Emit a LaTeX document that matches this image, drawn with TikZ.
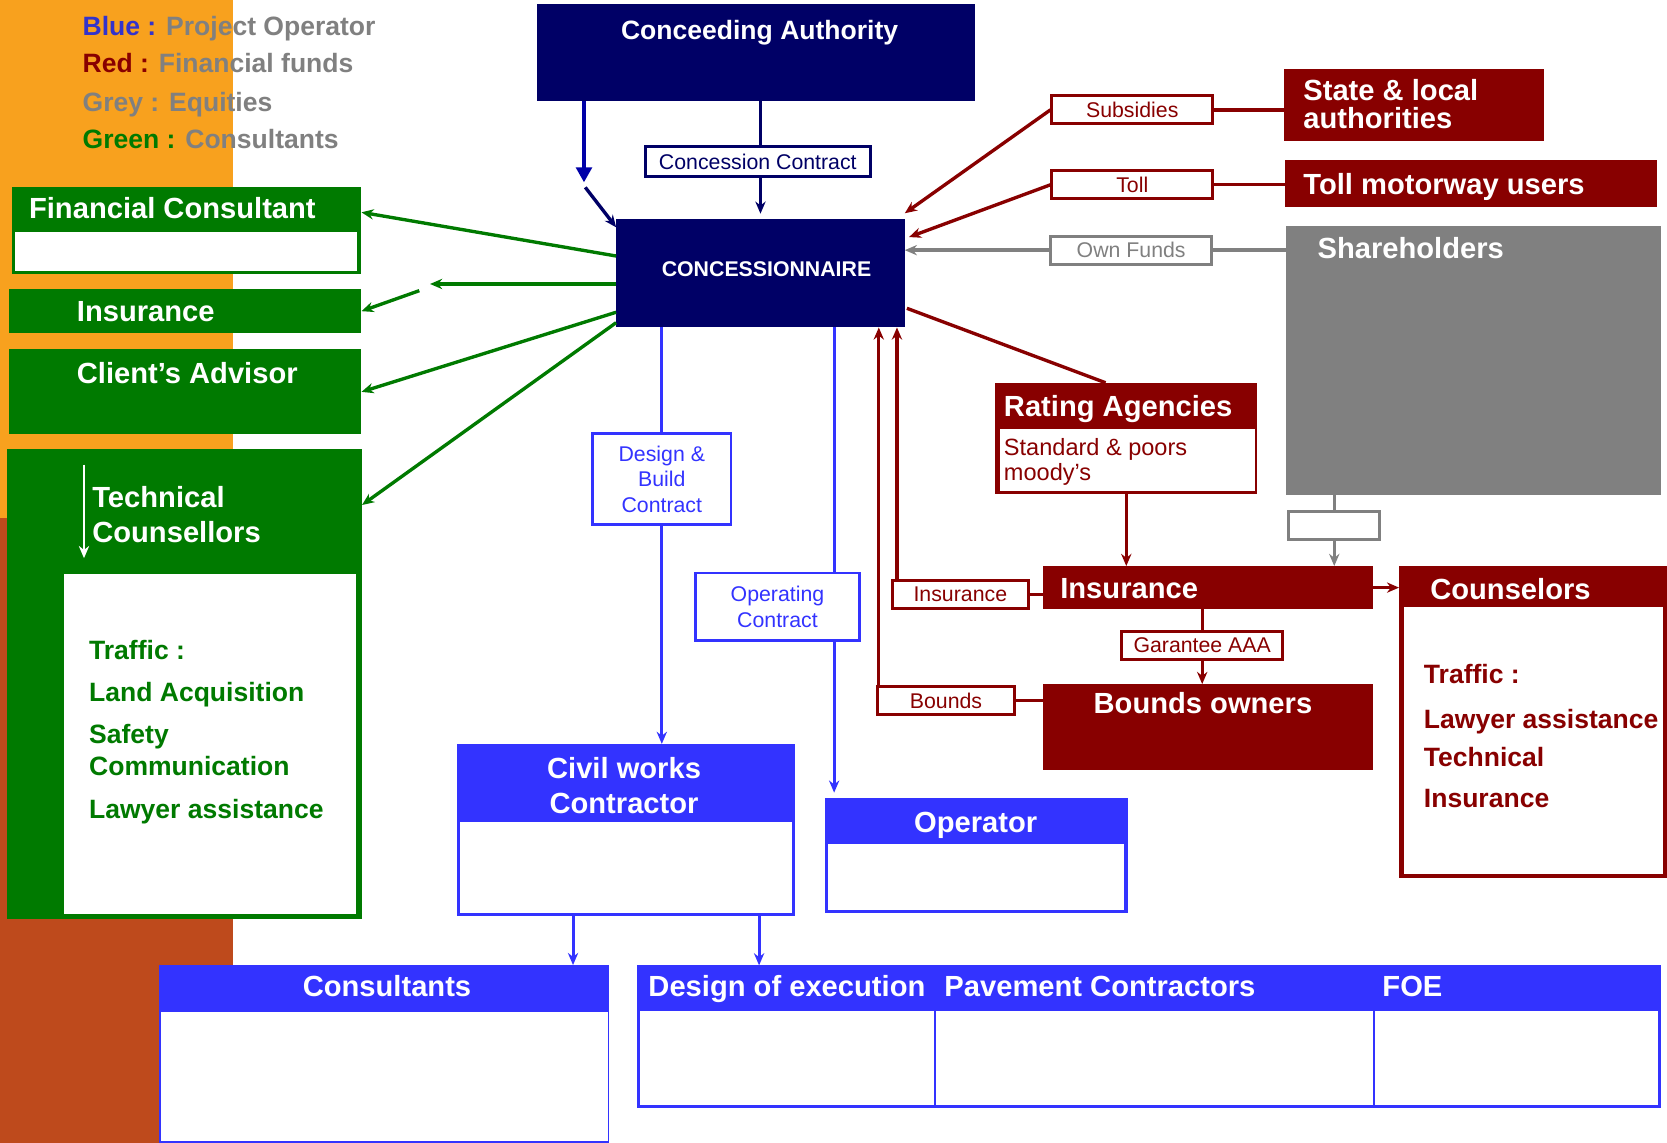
\documentclass[tikz,border=0pt]{standalone}
\usepackage{fontspec}
\setmainfont{Liberation Sans}
\usetikzlibrary{arrows.meta}
\definecolor{navy}{RGB}{0,0,102}
\definecolor{royal}{RGB}{0,0,168}
\definecolor{opblue}{RGB}{51,51,255}
\definecolor{fundred}{RGB}{136,0,0}
\definecolor{consgreen}{RGB}{0,122,0}
\definecolor{eqgrey}{RGB}{128,128,128}
\definecolor{keyblue}{RGB}{51,51,204}
\definecolor{bgorange}{RGB}{248,161,30}
\definecolor{bgrust}{RGB}{190,74,28}
\newcommand{\hdfont}{\fontsize{15.6}{18.7}\selectfont\bfseries}
\newcommand{\mdfont}{\fontsize{14.2}{17}\selectfont\bfseries}
\newcommand{\tgfont}{\fontsize{11.4}{13.7}\selectfont}
\newcommand{\rtfont}{\fontsize{12.6}{13.4}\selectfont}
\newcommand{\ccfont}{\fontsize{11.4}{13}\selectfont\bfseries}
\tikzset{
	block/.style={inner sep=0pt, outer sep=0pt},
	tag/.style={draw, fill=white, line width=1.6pt, inner sep=0pt, font=\tgfont, align=center},
	title/.style={inner sep=0pt, text=white, font=\hdfont},
	item/.style={inner sep=0pt, font=\mdfont},
	link/.style={line width=1.8pt},
	>={Stealth[length=6.5pt,width=5.5pt]}
}

\begin{document}
\begin{tikzpicture}[x=0.2mm, y=-0.2mm]
		\useasboundingbox (0,0) rectangle (1568,1075);
		\fill[bgorange] (0,0) rectangle (219,487.5);
		\fill[bgrust] (0,487.5) rectangle (219,1075);
		
		% legend
		\node[item, anchor=base west, text=eqgrey] (key1) at (77.4,33) {\textcolor{keyblue}{Blue :} Project Operator};
		\node[item, anchor=base west, text=eqgrey] (key2) at (77.4,68.4) {\textcolor{fundred}{Red :} Financial funds};
		\node[item, anchor=base west, text=eqgrey] (key3) at (77.4,105) {Grey : Equities};
		\node[item, anchor=base west, text=eqgrey] (key4) at (77.4,140) {\textcolor{consgreen}{Green :} Consultants};
		
		% authority and concessionnaire
		\node[block, fill=navy, minimum width=82.4mm, minimum height=18.2mm] (ca) at (711,49.5) {};
		\node[title, font=\mdfont, anchor=base] (ca-t) at (714.5,37.6) {Conceeding Authority};
		
		\node[block, fill=navy, minimum width=54.3mm, minimum height=20.4mm] (conc) at (715.3,257) {};
		\node[title, font=\ccfont, anchor=base] (conc-t) at (721,260) {CONCESSIONNAIRE};
		
		\node[tag, draw=navy, text=navy, minimum width=42.4mm, minimum height=5.5mm] (ccl) at (712.8,151.8) {Concession Contract};
		
		\coordinate (kink) at (549.3,171.5);
		\coordinate (kink2) at (550.5,176.2);
		\draw[link, royal, -{Triangle[length=8pt,width=8.4pt]}] (kink |- ca.south) -- (kink);
		\draw[link, navy, ->] (kink2) -- ([yshift=-1.56mm]conc.north west);
		\draw[link, navy] (ca.south -| conc.north) -- (ccl.north -| conc.north);
		\draw[link, navy, ->] (ccl.south -| conc.north) -- ([yshift=1mm]conc.north);
		
		% financial funds and equities
		\node[tag, draw=fundred, text=fundred, minimum width=30.2mm, minimum height=5.32mm] (sub) at (1065,103.3) {Subsidies};
		\node[block, fill=fundred, minimum width=48.86mm, minimum height=13.6mm] (state) at (1329.9,99) {};
		\node[title, anchor=base west] (state-t1) at (1225.6,94.7) {State \& local};
		\node[title, anchor=base west] (state-t2) at (1225.6,120.4) {authorities};
		
		\node[tag, draw=fundred, text=fundred, minimum width=30.2mm, minimum height=5.3mm] (toll) at (1065,173.8) {Toll};
		\node[block, fill=fundred, minimum width=70mm, minimum height=8.78mm] (users) at (1383.6,172.5) {};
		\node[title, anchor=base west] (users-t) at (1225.6,183.4) {Toll motorway users};
		
		\node[tag, draw=eqgrey, text=eqgrey, minimum width=30.2mm, minimum height=5.3mm] (own) at (1064,235.3) {Own Funds};
		\node[block, fill=eqgrey, minimum width=70.48mm, minimum height=50.68mm] (share) at (1385.8,339.3) {};
		\node[title, anchor=base west] (share-t) at (1239,243.6) {Shareholders};
		\node[tag, draw=eqgrey, minimum width=17.08mm, minimum height=5.26mm] (sbox) at (1255,493.9) {};
		
		\draw[link, fundred] (sub.east) -- (state.west |- sub.east);
		\draw[link, fundred, ->] (sub.west) -- ([yshift=1.08mm]conc.north east);
		\draw[link, fundred] (toll.east) -- (users.west |- toll.east);
		\draw[link, fundred, ->] (toll.west) -- ([shift={(0.8mm,-3.4mm)}]conc.north east);
		\draw[link, eqgrey] (own.east) -- (share.west |- own.east);
		\draw[link, eqgrey, ->] (own.west) -- (conc.east |- own.west);
		
		\node[block, fill=fundred, minimum width=49.36mm, minimum height=20.96mm] (rating) at (1059.4,412.4) {};
		\node[block, fill=white, minimum width=47.94mm, minimum height=11.62mm] (ratingin) at (1060.6,432.8) {};
		\node[title, anchor=base west] (rating-t) at (944,392) {Rating Agencies};
		\node[inner sep=0pt, font=\rtfont, text=fundred, anchor=base west] (rating-b1) at (944,428) {Standard \& poors};
		\node[inner sep=0pt, font=\rtfont, text=fundred, anchor=base west] (rating-b2) at (944,451.5) {moody’s};
		
		\node[block, fill=fundred, minimum width=62.04mm, minimum height=8.12mm] (ins) at (1135.9,552.7) {};
		\node[title, anchor=base west] (ins-t) at (997,562.6) {Insurance};
		\node[tag, draw=fundred, text=fundred, minimum width=25.48mm, minimum height=5.2mm] (insl) at (903.3,559) {Insurance};
		\node[tag, draw=fundred, text=fundred, minimum width=30.2mm, minimum height=5.3mm] (gar) at (1130.8,606.8) {Garantee AAA};
		
		\node[block, fill=fundred, minimum width=62.04mm, minimum height=16.12mm] (bo) at (1135.9,683.7) {};
		\node[title, anchor=base] (bo-t) at (1131.5,670.7) {Bounds owners};
		\node[tag, draw=fundred, text=fundred, minimum width=25.92mm, minimum height=5.44mm] (bl) at (889.8,658.9) {Bounds};
		
		\node[block, fill=fundred, minimum width=50.4mm, minimum height=58.8mm] (couns) at (1442,679) {};
		\node[block, fill=white, minimum width=48.72mm, minimum height=50.16mm] (counsin) at (1442.2,696.8) {};
		\node[title, anchor=base west] (couns-t) at (1345,564) {Counselors};
		\node[item, text=fundred, anchor=base west] (cs1) at (1339,643) {Traffic :};
		\node[item, text=fundred, anchor=base west] (cs2) at (1339,685) {Lawyer assistance};
		\node[item, text=fundred, anchor=base west] (cs3) at (1339,721) {Technical};
		\node[item, text=fundred, anchor=base west] (cs4) at (1339,760) {Insurance};
		
		\draw[link, fundred] ([shift={(0.4mm,-6.6mm)}]conc.east) -- ([xshift=-3.9mm]rating.north);
		\draw[link, fundred, ->] (rating.south) -- (rating.south |- ins.north);
		\draw[link, eqgrey] (sbox.north |- share.south) -- (sbox.north);
		\draw[link, eqgrey, ->] (sbox.south) -- (sbox.south |- ins.north);
		\draw[link, fundred] (insl.east) -- (ins.west |- insl.east);
		\draw[link, fundred, ->] ([xshift=1.1mm]insl.north west) -- ([xshift=1.1mm]insl.north west |- conc.south);
		\draw[link, fundred, ->] (ins.east) -- (couns.west |- ins.east);
		\draw[link, fundred] (gar.north |- ins.south) -- (gar.north);
		\draw[link, fundred, ->] (gar.south) -- (gar.south |- bo.north);
		\draw[link, fundred] (bl.east) -- (bo.west |- bl.east);
		\draw[link, fundred, ->] ([xshift=0.6mm]bl.north west) -- ([xshift=0.6mm]bl.north west |- conc.south);
		
		% consultants
		\node[block, fill=consgreen, minimum width=65.8mm, minimum height=16.4mm] (fc) at (175.5,217) {};
		\node[block, fill=white, minimum width=64.2mm, minimum height=7.4mm] (fcin) at (175,236.5) {};
		\node[title, anchor=base west] (fc-t) at (27,205.2) {Financial Consultant};
		
		\node[block, fill=consgreen, minimum width=66.4mm, minimum height=8.28mm] (gins) at (174,292.7) {};
		\node[title, anchor=base west] (gins-t) at (72,302.6) {Insurance};
		
		\node[block, fill=consgreen, minimum width=66.4mm, minimum height=16mm] (adv) at (174,368.6) {};
		\node[title, anchor=base west] (adv-t) at (72,360.5) {Client’s Advisor};
		
		\node[block, fill=consgreen, minimum width=66.7mm, minimum height=88.4mm] (tech) at (173.8,643) {};
		\node[block, fill=white, minimum width=55mm, minimum height=64mm] (techin) at (197.5,700) {};
		\node[title, anchor=base west] (tech-t1) at (86.5,477) {Technical};
		\node[title, anchor=base west] (tech-t2) at (86.5,510) {Counsellors};
		\node[item, text=consgreen, anchor=base west] (tk1) at (83.5,620) {Traffic :};
		\node[item, text=consgreen, anchor=base west] (tk2) at (83.5,660) {Land Acquisition};
		\node[item, text=consgreen, anchor=base west] (tk3) at (83.5,699) {Safety};
		\node[item, text=consgreen, anchor=base west] (tk4) at (83.5,729) {Communication};
		\node[item, text=consgreen, anchor=base west] (tk5) at (83.5,770) {Lawyer assistance};
		\coordinate (techtop) at (79,437);
		\coordinate (techbot) at (79,525);
		\draw[white, line width=1.2pt, ->] (techtop) -- (techbot);
		
		\coordinate (gapend) at (404.5,267.1);
		\coordinate (gapstart) at (394.4,273.4);
		\draw[link, consgreen, ->] ([yshift=3.24mm]conc.west) -- ([yshift=3.46mm]fc.east);
		\draw[link, consgreen, ->] (conc.west |- gapend) -- (gapend);
		\draw[link, consgreen, ->] (gapstart) -- (gins.east);
		\draw[link, consgreen, ->] ([yshift=-7.34mm]conc.west) -- (adv.east);
		\draw[link, consgreen, ->] ([yshift=-9.3mm]conc.west) -- ([yshift=-10.6mm]tech.north east);
		
		% project operator
		\node[tag, draw=opblue, text=opblue, line width=1.4pt, minimum width=26mm, minimum height=17.12mm] (dbl) at (622.5,450.8) {Design \&\\Build\\Contract};
		\node[tag, draw=opblue, text=opblue, line width=1.4pt, minimum width=30.9mm, minimum height=12.64mm] (ocl) at (731.3,570.6) {Operating\\Contract};
		
		\node[block, fill=opblue, minimum width=63.66mm, minimum height=32.44mm] (civ) at (589,780.8) {};
		\node[block, fill=white, minimum width=62.4mm, minimum height=17.16mm] (civin) at (589,816.1) {};
		\node[title, anchor=base] (civ-t1) at (587,732.4) {Civil works};
		\node[title, anchor=base] (civ-t2) at (587,765.2) {Contractor};
		
		\node[block, fill=opblue, minimum width=56.94mm, minimum height=21.54mm] (op) at (918.2,804.9) {};
		\node[block, fill=white, minimum width=55.66mm, minimum height=12.34mm] (opin) at (918.2,824.7) {};
		\node[title, anchor=base] (op-t) at (917.7,782.6) {Operator};
		
		\node[block, fill=opblue, minimum width=84.6mm, minimum height=33.5mm] (cons) at (361.5,991.5) {};
		\node[block, fill=white, minimum width=84mm, minimum height=24.3mm] (consin) at (361.5,1012.75) {};
		\node[title, anchor=base] (cons-t) at (364,937) {Consultants};
		
		\node[block, fill=opblue, minimum width=56.08mm, minimum height=26.8mm] (exec) at (739.2,975) {};
		\node[block, fill=white, minimum width=55.32mm, minimum height=17.6mm] (execin) at (740.1,995) {};
		\node[title, anchor=base west] (exec-t) at (609.6,937) {Design of execution};
		\node[block, fill=opblue, minimum width=82.58mm, minimum height=26.8mm] (pave) at (1085.85,975) {};
		\node[block, fill=white, minimum width=82.18mm, minimum height=17.6mm] (pavein) at (1085.85,995) {};
		\node[title, anchor=base west] (pave-t) at (888,937) {Pavement Contractors};
		\node[block, fill=opblue, minimum width=53.94mm, minimum height=26.8mm] (foe) at (1427.15,975) {};
		\node[block, fill=white, minimum width=53.18mm, minimum height=17.6mm] (foein) at (1426.25,995) {};
		\node[title, anchor=base west] (foe-t) at (1300,937) {FOE};
		
		\coordinate (oplink) at (784.6,570.6);
		\draw[link, opblue, line width=1.6pt] (dbl.north |- conc.south) -- (dbl.north);
		\draw[link, opblue, line width=1.6pt, ->] (dbl.south) -- (dbl.south |- civ.north);
		\draw[link, opblue, line width=1.6pt] (oplink |- conc.south) -- (oplink |- ocl.north);
		\draw[link, opblue, line width=1.6pt, ->, shorten >=1.1mm] (oplink |- ocl.south) -- (oplink |- op.north);
		\draw[link, opblue, line width=1.6pt, ->] ([xshift=-10mm]civ.south) -- ([xshift=-10mm]civ.south |- cons.north);
		\draw[link, opblue, line width=1.6pt, ->] ([xshift=25mm]civ.south) -- ([xshift=25mm]civ.south |- exec.north);
	\end{tikzpicture}
\end{document}
